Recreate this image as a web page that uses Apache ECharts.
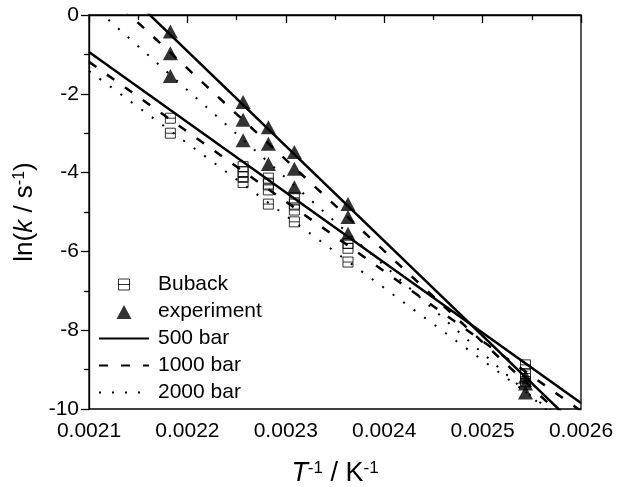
<!DOCTYPE html>
<html>
<head>
<meta charset="utf-8">
<script src="https://cdn.jsdelivr.net/npm/echarts@6/dist/echarts.min.js"></script>
<style>
html,body{margin:0;padding:0;background:#fff;}
#chart{width:624px;height:487px;}
</style>
</head>
<body>
<div id="chart"></div>
<script>
// inverse temperatures (1/K)
const g1 = 0.0021827, g2 = 0.0022566, g3 = 0.0022823, g4 = 0.0023087, g5 = 0.0023632, g6 = 0.0025436;

const bubackX = [g1, g1, g2, g2, g2, g2, g3, g3, g3, g3, g4, g4, g4, g4, g5, g5, g5, g6, g6, g6];
const bubackY = [-2.62, -3.00, -3.85, -3.98, -4.10, -4.25, -4.14, -4.29, -4.44, -4.80, -4.64, -4.80, -4.95, -5.25, -5.80, -5.92, -6.27, -8.88, -9.10, -9.30];

const expX = [g1, g1, g1, g2, g2, g2, g3, g3, g3, g4, g4, g4, g5, g5, g5, g6, g6, g6];
const expY = [-0.42, -0.97, -1.55, -2.21, -2.66, -3.18, -2.85, -3.27, -3.78, -3.48, -3.90, -4.37, -4.80, -5.13, -5.55, -9.18, -9.35, -9.58];

const fitX = [0.0021, 0.0026];
const expFit500 = [1.49, -10.55];
const expFit1000 = [0.96, -10.62];
const expFit2000 = [0.32, -10.81];
const bubackFit500 = [-0.94, -9.85];
const bubackFit1000 = [-1.19, -10.05];
const bubackFit2000 = [-1.42, -10.60];

const legendNames = ['Buback', 'experiment', '500 bar', '1000 bar', '2000 bar'];

const FONT = 'Liberation Sans, Arial, sans-serif';
const pair = (xs, ys) => xs.map((x, i) => [x, ys[i]]);

const squarePath = 'path://M0,0L10,0L10,10L0,10Z M0,5L10,5';
const squareLegendPath = 'path://M0,0 M19.5,2L30.5,2L30.5,13L19.5,13Z M19.5,7.5L30.5,7.5 M50,15';
const triangleLegendPath = 'path://M0,0 M25,1L32.5,15L17.5,15Z M50,15';

const solid = { color: '#000', width: 2.5, type: 'solid' };
const dashed = { color: '#000', width: 2.5, type: [9, 13] };
const dotted = { color: '#000', width: 2, type: [2, 11] };

function lineSeries(name, ys, style) {
  return {
    name: name, type: 'line', data: pair(fitX, ys), symbol: 'none',
    lineStyle: style, itemStyle: { color: 'transparent' },
    silent: true, animation: false, clip: true, z: 2
  };
}

const hiddenItem = { color: 'transparent', borderColor: 'transparent', borderWidth: 0 };

function titleRich(size, supSize) {
  return {
    i: { fontSize: size, fontStyle: 'italic', color: '#000', fontFamily: FONT },
    n: { fontSize: size, color: '#000', fontFamily: FONT },
    sup: { fontSize: supSize, color: '#000', fontFamily: FONT, verticalAlign: 'top', lineHeight: supSize }
  };
}

const chart = echarts.init(document.getElementById('chart'), null, { renderer: 'canvas' });
chart.setOption({
  animation: false,
  backgroundColor: '#fff',
  textStyle: { fontFamily: FONT },
  grid: {
    left: 89, right: 43, top: 15, bottom: 78, containLabel: false, outerBoundsMode: 'none',
    show: true, borderColor: '#000', borderWidth: 1.3, backgroundColor: 'transparent'
  },
  legend: {
    orient: 'vertical', left: 93, top: 269,
    itemWidth: 50, itemHeight: 15, itemGap: 6,
    selectedMode: false,
    textStyle: { fontSize: 21, color: '#000', fontFamily: FONT, lineHeight: 21, padding: [0, 0, 0, 4] },
    data: [
      { name: legendNames[0], icon: squareLegendPath, itemStyle: { color: 'transparent', borderColor: '#000', borderWidth: 1 } },
      { name: legendNames[1], icon: triangleLegendPath, itemStyle: { color: '#000', borderColor: 'transparent', borderWidth: 0 } },
      { name: legendNames[2], itemStyle: hiddenItem },
      { name: legendNames[3], itemStyle: hiddenItem },
      { name: legendNames[4], itemStyle: hiddenItem }
    ]
  },
  xAxis: {
    type: 'value', min: 0.0021, max: 0.0026, interval: 0.0001,
    name: '{i|T}{sup|-1}{n| / K}{sup|-1}',
    nameLocation: 'middle', nameGap: 51,
    nameTextStyle: { rich: titleRich(27, 17) },
    axisLine: { lineStyle: { color: '#000', width: 1.3 } },
    axisTick: { inside: false, length: 8, lineStyle: { color: '#000', width: 1.3 } },
    minorTick: { show: true, splitNumber: 2, length: 5, lineStyle: { color: '#000', width: 1.3 } },
    splitLine: { show: false },
    axisLabel: { fontSize: 21, color: '#000', margin: 12, fontFamily: FONT, formatter: v => v.toFixed(4) }
  },
  yAxis: {
    type: 'value', min: -10, max: 0, interval: 2,
    name: '{n|ln(}{i|k}{n| / s}{sup|-1}{n|)}',
    nameLocation: 'middle', nameGap: 41, nameRotate: 90,
    nameTextStyle: { rich: titleRich(26, 16) },
    axisLine: { lineStyle: { color: '#000', width: 1.3 } },
    axisTick: { inside: false, length: 8, lineStyle: { color: '#000', width: 1.3 } },
    minorTick: { show: true, splitNumber: 2, length: 5, lineStyle: { color: '#000', width: 1.3 } },
    splitLine: { show: false },
    axisLabel: { fontSize: 21, color: '#000', margin: 10, fontFamily: FONT }
  },
  series: [
    lineSeries(legendNames[2], expFit500, solid),
    lineSeries(legendNames[3], expFit1000, dashed),
    lineSeries(legendNames[4], expFit2000, dotted),
    lineSeries(legendNames[2], bubackFit500, solid),
    lineSeries(legendNames[3], bubackFit1000, dashed),
    lineSeries(legendNames[4], bubackFit2000, dotted),
    {
      name: legendNames[0], type: 'scatter', data: pair(bubackX, bubackY),
      symbol: squarePath, symbolSize: [10, 10],
      itemStyle: { color: 'transparent', borderColor: '#000', borderWidth: 1 }, z: 3
    },
    {
      name: legendNames[1], type: 'scatter', data: pair(expX, expY),
      symbol: 'triangle', symbolSize: [15, 14],
      itemStyle: { color: '#000' }, z: 4
    }
  ]
});
</script>
</body>
</html>
